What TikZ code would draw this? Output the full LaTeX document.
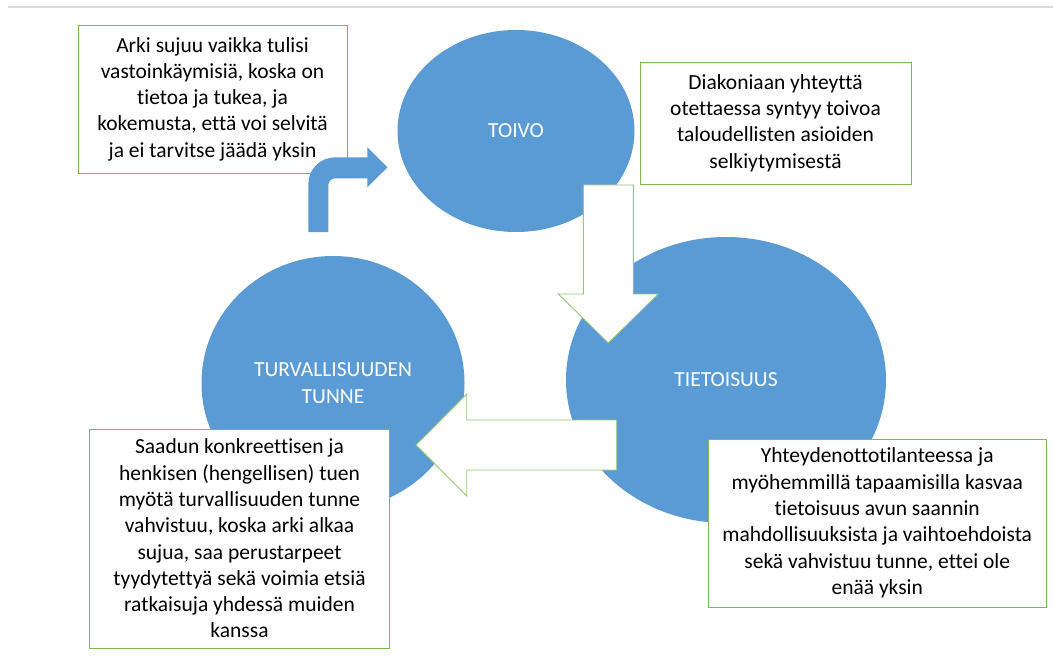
\documentclass[tikz,border=0pt]{standalone}
\usepackage{fontspec}
\setmainfont{Carlito}[Ligatures={NoCommon}, RawFeature={-liga;-clig;-calt;-dlig}]
\usetikzlibrary{shapes.geometric}
\definecolor{ofblue}{RGB}{91,155,213}
\definecolor{boxgreen}{RGB}{125,185,85}
\definecolor{arrgreen}{RGB}{150,200,115}
\definecolor{topgray}{RGB}{220,220,220}
\tikzset{
  circ/.style={ellipse, fill=ofblue, draw=none, inner sep=0pt, text=white,
    font=\fontsize{21.5}{26.5}\selectfont, align=center},
  txtbox/.style={rectangle, draw=boxgreen, line width=0.9pt, fill=white, inner sep=0pt,
    font=\fontsize{21.5}{26.3}\selectfont, align=center, text=black},
  blockarrow/.style={fill=white, draw=arrgreen, line width=0.9pt, line join=miter},
  bentarrow/.style={fill=ofblue, draw=none}
}
\begin{document}
\begin{tikzpicture}[x=1pt,y=-1pt]
\useasboundingbox (0,0) rectangle (1053,666);
\fill[white] (0,0) rectangle (1053,666);
\draw[topgray, line width=2.7pt] (8,7) -- (1053,7);

% ellipses
\node[circ, minimum width=237pt, minimum height=202pt] (toivo) at (516,131) {TOIVO};
\node[circ, minimum width=320pt, minimum height=286pt] (tieto) at (726,380) {TIETOISUUS};
\node[circ, minimum width=263pt, minimum height=254pt] (turva) at (333,383) {TURVALLISUUDEN\\TUNNE};

% boxes
\node[txtbox, minimum width=269pt, minimum height=148pt] (b1) at (212.5,99)
  {Arki sujuu vaikka tulisi\\vastoinkäymisiä, koska on\\tietoa ja tukea, ja\\kokemusta, että voi selvitä\\ja ei tarvitse jäädä yksin};
\node[txtbox, minimum width=271pt, minimum height=122pt] (b2) at (775.5,123)
  {Diakoniaan yhteyttä\\otettaessa syntyy toivoa\\taloudellisten asioiden\\selkiytymisestä};
\node[txtbox, minimum width=300pt, minimum height=219pt] (b3) at (239.5,538.5)
  {Saadun konkreettisen ja\\henkisen (hengellisen) tuen\\myötä turvallisuuden tunne\\vahvistuu, koska arki alkaa\\sujua, saa perustarpeet\\tyydytettyä sekä voimia etsiä\\ratkaisuja yhdessä muiden\\kanssa};
\node[txtbox, minimum width=337.5pt, minimum height=168pt] (b4) at (877.25,523)
  {Yhteydenottotilanteessa ja\\myöhemmillä tapaamisilla kasvaa\\tietoisuus avun saannin\\mahdollisuuksista ja vaihtoehdoista\\sekä vahvistuu tunne, ettei ole\\enää yksin};

% down arrow TOIVO -> TIETOISUUS
\coordinate (dtip) at (608.3,343);
\draw[blockarrow] (583.3,185) -- (633.3,185) -- (633.3,294) -- (658.3,294) -- (dtip)
  -- (558.3,294) -- (583.3,294) -- cycle;

% left arrow TIETOISUUS -> TURVALLISUUDEN
\coordinate (ltip) at (416,445);
\draw[blockarrow] (616.7,420) -- (616.7,470) -- (466.7,470) -- (466.7,496) -- (ltip)
  -- (466.7,394) -- (466.7,420) -- cycle;

% bent arrow TURVALLISUUDEN -> TOIVO
\coordinate (btip) at (387.5,167.3);
\fill[bentarrow] (308.3,232) -- (308.3,184)
  .. controls (308.3,169.1) and (320.4,157.3) .. (335.3,157.3)
  -- (367.3,157.3) -- (367.3,147.3) -- (btip) -- (367.3,187.3) -- (367.3,178.3)
  -- (335.3,178.3) .. controls (331.4,178.3) and (328.3,181.4) .. (328.3,185.3)
  -- (328.3,232) -- cycle;
\end{tikzpicture}
\end{document}
